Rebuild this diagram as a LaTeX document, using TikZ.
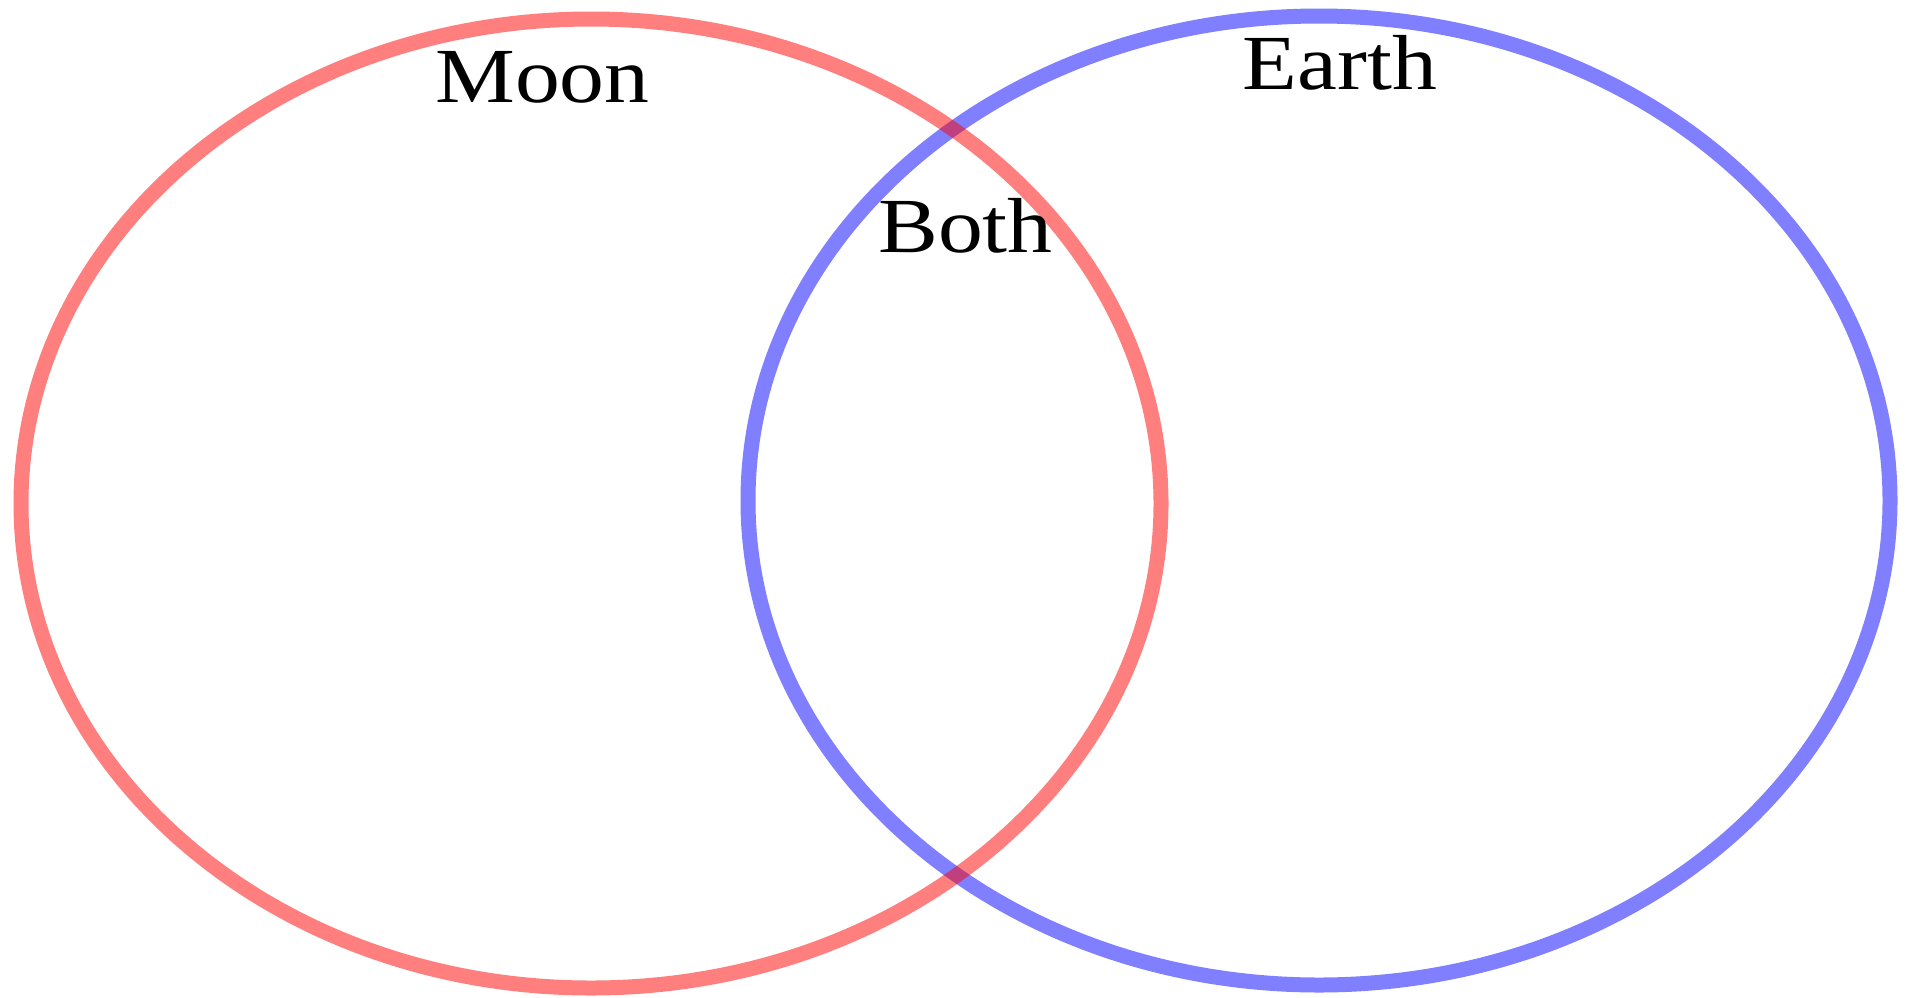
\documentclass[tikz,border=0pt]{standalone}
\usepackage{fontspec}
\setmainfont{Liberation Serif}
\definecolor{moonred}{RGB}{255,0,0}
\definecolor{earthblue}{RGB}{0,0,255}
\tikzset{
  ring/.style={line width=15pt, draw opacity=0.5},
  lbl/.style={inner sep=0pt, anchor=base, xscale=1.15, font=\fontsize{78}{80}\selectfont}
}
\begin{document}
\begin{tikzpicture}[x=1pt,y=-1pt]
\useasboundingbox (0,0) rectangle (1906,997);
\fill[white] (0,0) rectangle (1906,997);
\draw[ring, draw=earthblue] (1319,500.5) ellipse [x radius=571, y radius=484.5];
\draw[ring, draw=moonred] (591,503.5) ellipse [x radius=570, y radius=484.5];
\node[lbl] (moon) at (542.5,102) {Moon};
\node[lbl] (earth) at (1340,89) {Earth};
\node[lbl] (both) at (965.5,252) {Both};
\end{tikzpicture}
\end{document}
